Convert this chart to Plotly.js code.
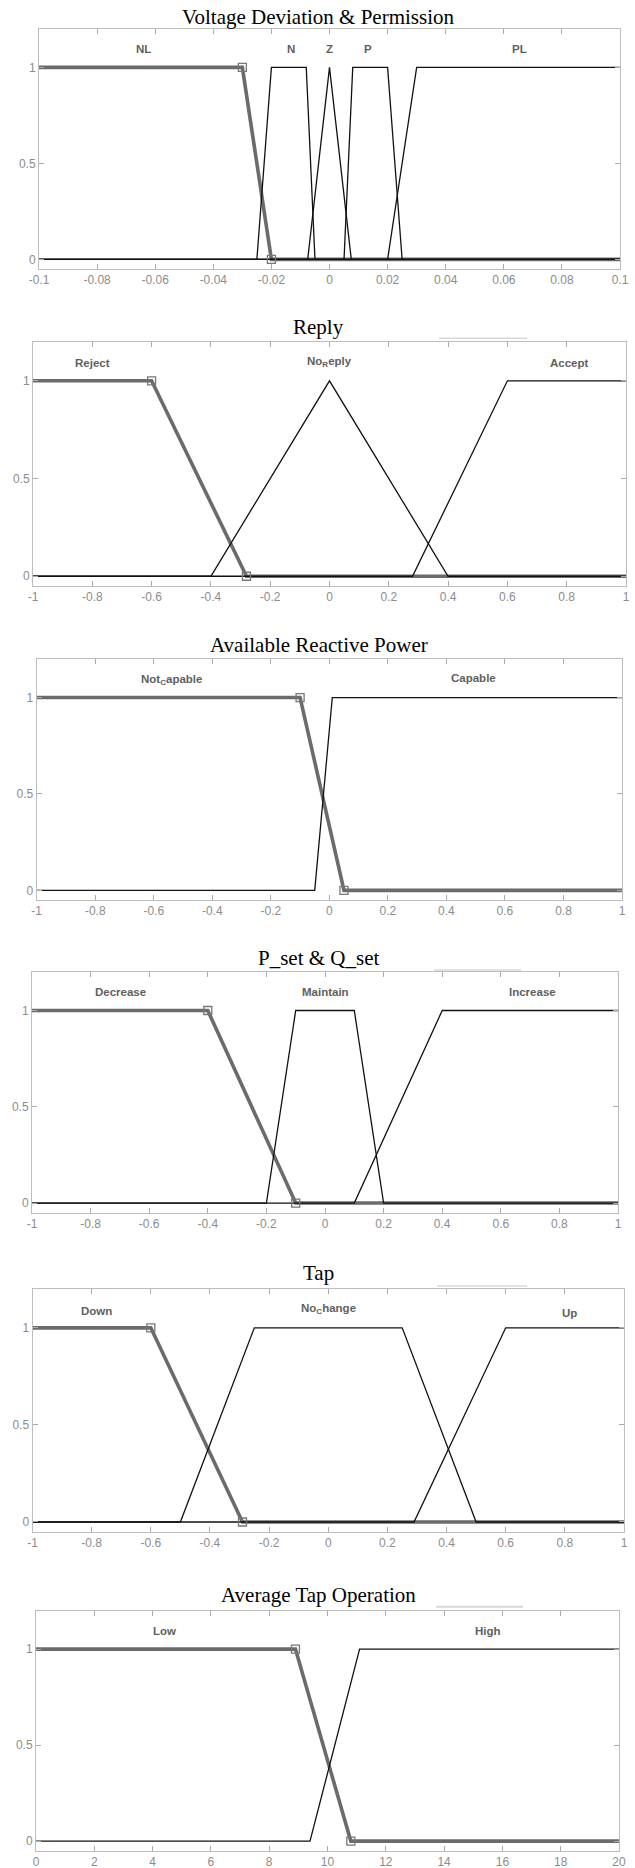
<!DOCTYPE html>
<html>
<head>
<meta charset="utf-8">
<script src="https://cdn.plot.ly/plotly-3.0.1.min.js"></script>
<style>html,body{margin:0;padding:0;background:#fff;}#chart{width:635px;height:1868px;}</style>
</head>
<body>
<div id="chart"></div>
<script>
// ---------- DATA ----------
const panelTitles = ["Voltage Deviation & Permission", "Reply", "Available Reactive Power", "P_set & Q_set", "Tap", "Average Tap Operation"];

// x tick values / labels
const ticksVdpVals = [-0.1, -0.08, -0.06, -0.04, -0.02, 0, 0.02, 0.04, 0.06, 0.08, 0.1];
const ticksVdpText = ["-0.1", "-0.08", "-0.06", "-0.04", "-0.02", "0", "0.02", "0.04", "0.06", "0.08", "0.1"];
const ticksUnitVals = [-1, -0.8, -0.6, -0.4, -0.2, 0, 0.2, 0.4, 0.6, 0.8, 1];
const ticksUnitText = ["-1", "-0.8", "-0.6", "-0.4", "-0.2", "0", "0.2", "0.4", "0.6", "0.8", "1"];
const ticksTapVals = [0, 2, 4, 6, 8, 10, 12, 14, 16, 18, 20];
const ticksTapText = ["0", "2", "4", "6", "8", "10", "12", "14", "16", "18", "20"];
const yTickVals = [0, 0.5, 1];
const yTickText = ["0", "0.5", "1"];

// Panel 1: Voltage Deviation & Permission
const vdpNames = ["NL", "N", "Z", "P", "PL"];
const vdpNL_x = [-0.1, -0.03, -0.02, 0.1];
const vdpNL_y = [1, 1, 0, 0];
const vdpN_x = [-0.1, -0.025, -0.02, -0.008, -0.005, 0.1];
const vdpN_y = [0, 0, 1, 1, 0, 0];
const vdpZ_x = [-0.1, -0.0075, 0, 0.0075, 0.1];
const vdpZ_y = [0, 0, 1, 0, 0];
const vdpP_x = [-0.1, 0.005, 0.008, 0.02, 0.025, 0.1];
const vdpP_y = [0, 0, 1, 1, 0, 0];
const vdpPL_x = [-0.1, 0.02, 0.03, 0.1];
const vdpPL_y = [0, 0, 1, 1];

// Panel 2: Reply
const replyNames = ["Reject", "No<sub>R</sub>eply", "Accept"];
const replyReject_x = [-1, -0.6, -0.28, 1];
const replyReject_y = [1, 1, 0, 0];
const replyNo_x = [-1, -0.4, 0, 0.4, 1];
const replyNo_y = [0, 0, 1, 0, 0];
const replyAccept_x = [-1, 0.28, 0.6, 1];
const replyAccept_y = [0, 0, 1, 1];

// Panel 3: Available Reactive Power
const arpNames = ["Not<sub>C</sub>apable", "Capable"];
const arpNot_x = [-1, -0.1, 0.05, 1];
const arpNot_y = [1, 1, 0, 0];
const arpCap_x = [-1, -0.05, 0.01, 1];
const arpCap_y = [0, 0, 1, 1];

// Panel 4: P_set & Q_set
const pqNames = ["Decrease", "Maintain", "Increase"];
const pqDec_x = [-1, -0.4, -0.1, 1];
const pqDec_y = [1, 1, 0, 0];
const pqMain_x = [-1, -0.2, -0.1, 0.1, 0.2, 1];
const pqMain_y = [0, 0, 1, 1, 0, 0];
const pqInc_x = [-1, 0.1, 0.4, 1];
const pqInc_y = [0, 0, 1, 1];

// Panel 5: Tap
const tapNames = ["Down", "No<sub>C</sub>hange", "Up"];
const tapDown_x = [-1, -0.6, -0.29, 1];
const tapDown_y = [1, 1, 0, 0];
const tapNo_x = [-1, -0.5, -0.25, 0.25, 0.5, 1];
const tapNo_y = [0, 0, 1, 1, 0, 0];
const tapUp_x = [-1, 0.29, 0.6, 1];
const tapUp_y = [0, 0, 1, 1];

// Panel 6: Average Tap Operation
const atoNames = ["Low", "High"];
const atoLow_x = [0, 8.9, 10.8, 20];
const atoLow_y = [1, 1, 0, 0];
const atoHigh_x = [0, 9.4, 11.1, 20];
const atoHigh_y = [0, 0, 1, 1];

// ---------- LAYOUT CONFIG ----------
const W = 635, H = 1868;
// frame in pixels: left, right, top, bottom
const frames = [
  [39, 620, 29, 269],
  [33, 626, 341.7, 586],
  [36.7, 622, 659, 900],
  [32, 618, 972, 1212.7],
  [32.5, 624, 1289, 1531.7],
  [36, 619, 1610.7, 1850.7]
];
const titleY = [17, 327, 645, 958, 1273, 1595];
const titleX = 319;

const panels = [
  {range: [-0.1, 0.1], tv: ticksVdpVals, tt: ticksVdpText,
   hi: [vdpNL_x, vdpNL_y], others: [[vdpN_x, vdpN_y], [vdpZ_x, vdpZ_y], [vdpP_x, vdpP_y], [vdpPL_x, vdpPL_y]],
   names: vdpNames, lx: [-0.064, -0.0131, 0, 0.0134, 0.0655], ly: [1.094, 1.094, 1.094, 1.094, 1.094]},
  {range: [-1, 1], tv: ticksUnitVals, tt: ticksUnitText,
   hi: [replyReject_x, replyReject_y], others: [[replyNo_x, replyNo_y], [replyAccept_x, replyAccept_y]],
   names: replyNames, lx: [-0.8, 0, 0.81], ly: [1.093, 1.095, 1.093]},
  {range: [-1, 1], tv: ticksUnitVals, tt: ticksUnitText,
   hi: [arpNot_x, arpNot_y], others: [[arpCap_x, arpCap_y]],
   names: arpNames, lx: [-0.54, 0.494], ly: [1.09, 1.1]},
  {range: [-1, 1], tv: ticksUnitVals, tt: ticksUnitText,
   hi: [pqDec_x, pqDec_y], others: [[pqMain_x, pqMain_y], [pqInc_x, pqInc_y]],
   names: pqNames, lx: [-0.698, 0, 0.709], ly: [1.095, 1.095, 1.095]},
  {range: [-1, 1], tv: ticksUnitVals, tt: ticksUnitText,
   hi: [tapDown_x, tapDown_y], others: [[tapNo_x, tapNo_y], [tapUp_x, tapUp_y]],
   names: tapNames, lx: [-0.783, 0, 0.815], ly: [1.086, 1.098, 1.074]},
  {range: [0, 20], tv: ticksTapVals, tt: ticksTapText,
   hi: [atoLow_x, atoLow_y], others: [[atoHigh_x, atoHigh_y]],
   names: atoNames, lx: [4.4, 15.5], ly: [1.095, 1.095]}
];

const traces = [];
const layout = {
  width: W, height: H,
  margin: {l: 0, r: 0, t: 0, b: 0},
  paper_bgcolor: '#ffffff', plot_bgcolor: '#ffffff',
  showlegend: false,
  annotations: [], shapes: []
};

const tickFont = {family: 'Liberation Sans, Arial, sans-serif', size: 12, color: '#8c8c8c'};
const labelFont = {family: 'Liberation Sans, Arial, sans-serif', size: 11.5, color: '#5f5f5f'};

panels.forEach((p, i) => {
  const n = i + 1;
  const xa = 'x' + (n === 1 ? '' : n), ya = 'y' + (n === 1 ? '' : n);
  const xk = 'xaxis' + (n === 1 ? '' : n), yk = 'yaxis' + (n === 1 ? '' : n);
  const f = frames[i];
  layout[xk] = {
    domain: [f[0] / W, f[1] / W], range: p.range, anchor: ya,
    tickmode: 'array', tickvals: p.tv, ticktext: p.tt,
    ticks: 'inside', ticklen: 5, tickcolor: '#aaaaaa', tickwidth: 1,
    showline: true, linecolor: '#bdbdbd', linewidth: 1, mirror: 'ticks',
    showgrid: false, zeroline: false, tickfont: tickFont, fixedrange: true
  };
  layout[yk] = {
    domain: [1 - f[3] / H, 1 - f[2] / H], range: [-0.05, 1.2], anchor: xa,
    tickmode: 'array', tickvals: yTickVals, ticktext: yTickText,
    ticks: 'inside', ticklen: 5, tickcolor: '#aaaaaa', tickwidth: 1,
    showline: true, linecolor: '#bdbdbd', linewidth: 1, mirror: 'ticks',
    showgrid: false, zeroline: false, tickfont: tickFont, fixedrange: true
  };
  // highlighted (thick gray) MF
  traces.push({x: p.hi[0], y: p.hi[1], xaxis: xa, yaxis: ya, mode: 'lines',
    line: {color: '#6b6b6b', width: 3.6}, hoverinfo: 'skip'});
  // other MFs (thin black)
  p.others.forEach(o => {
    traces.push({x: o[0], y: o[1], xaxis: xa, yaxis: ya, mode: 'lines',
      line: {color: '#111111', width: 1.3}, hoverinfo: 'skip'});
  });
  // square markers at the corner points of the highlighted MF
  traces.push({x: p.hi[0].slice(1, 3), y: p.hi[1].slice(1, 3), xaxis: xa, yaxis: ya, mode: 'markers',
    marker: {symbol: 'square-open', size: 8, color: '#777777', line: {width: 1.3, color: '#777777'}},
    hoverinfo: 'skip'});
  // MF labels
  p.names.forEach((nm, k) => {
    layout.annotations.push({text: '<b>' + nm + '</b>', x: p.lx[k], y: p.ly[k], xref: xa, yref: ya,
      showarrow: false, xanchor: 'center', yanchor: 'middle', font: labelFont});
  });
  // title
  layout.annotations.push({text: panelTitles[i], x: titleX / W, y: 1 - titleY[i] / H, xref: 'paper', yref: 'paper',
    showarrow: false, xanchor: 'center', yanchor: 'middle',
    font: {family: 'Liberation Serif, Times New Roman, serif', size: 21, color: '#000000'}});
});

// faint gray stroke artifacts near titles
const strokes = [[439, 527, 338.3, 1.5], [434, 521, 970, 1.5], [437, 527, 1286, 1.5], [436, 523, 1606.7, 2]];
strokes.forEach(s => {
  layout.shapes.push({type: 'line', xref: 'paper', yref: 'paper', x0: s[0] / W, x1: s[1] / W,
    y0: 1 - s[2] / H, y1: 1 - s[2] / H, line: {color: '#d9d9d9', width: s[3]}});
});

Plotly.newPlot('chart', traces, layout, {staticPlot: true, displayModeBar: false});
</script>
</body>
</html>
